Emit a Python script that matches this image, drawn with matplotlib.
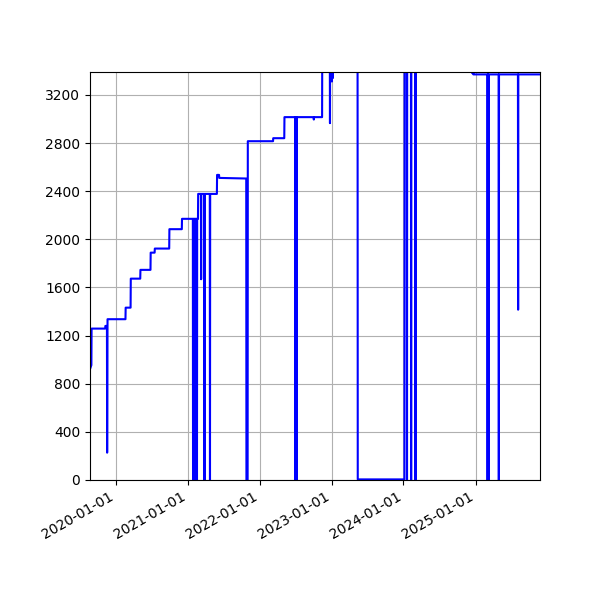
import matplotlib
matplotlib.use("Agg")
import matplotlib.pyplot as plt
import matplotlib.dates as mdates
import pandas as pd

dates = [
    "2019-08-26", "2019-08-31", "2019-09-01", "2019-11-09", "2019-11-10", "2019-11-18",
    "2019-11-19", "2019-11-21", "2020-02-20", "2020-02-21", "2020-03-17", "2020-03-18",
    "2020-05-05", "2020-05-06", "2020-06-26", "2020-06-27", "2020-07-17", "2020-07-18",
    "2020-09-29", "2020-09-30", "2020-12-02", "2020-12-03",
    "2021-01-27", "2021-01-28", "2021-01-29",
    "2021-02-06", "2021-02-07", "2021-02-08",
    "2021-02-16", "2021-02-17", "2021-02-18",
    "2021-02-22", "2021-02-23",
    "2021-03-09", "2021-03-10", "2021-03-11",
    "2021-03-26", "2021-03-27", "2021-03-28",
    "2021-04-23", "2021-04-24", "2021-04-25",
    "2021-05-29", "2021-05-30", "2021-06-09", "2021-06-10",
    "2021-10-25", "2021-10-26", "2021-11-01", "2021-11-02",
    "2022-03-10", "2022-03-11", "2022-05-06", "2022-05-07",
    "2022-06-30", "2022-07-01", "2022-07-02",
    "2022-07-06", "2022-07-07", "2022-07-08",
    "2022-10-02", "2022-10-03", "2022-10-04",
    "2022-11-14", "2022-11-15",
    "2022-12-23", "2022-12-24", "2022-12-25",
    "2023-01-02", "2023-01-03", "2023-01-04",
    "2023-01-07", "2023-01-08", "2023-01-09",
    "2023-05-13", "2023-05-14", "2024-01-06", "2024-01-07",
    "2024-01-18", "2024-01-19", "2024-01-20",
    "2024-02-08", "2024-02-09", "2024-02-10",
    "2024-03-01", "2024-03-02", "2024-03-03",
    "2024-12-14", "2024-12-15", "2024-12-20", "2024-12-21",
    "2025-03-02", "2025-03-03", "2025-03-04",
    "2025-03-07", "2025-03-08", "2025-03-09",
    "2025-04-28", "2025-04-29", "2025-04-30",
    "2025-08-04", "2025-08-05", "2025-08-06",
    "2025-11-26",
]
values = [
    930, 955, 1258, 1258, 1280, 1280,
    227, 1336, 1336, 1432, 1432, 1673,
    1673, 1746, 1746, 1889, 1889, 1923,
    1923, 2084, 2084, 2170,
    2170, 0, 2170,
    2170, 0, 2170,
    2170, 0, 2170,
    2170, 2377,
    2377, 1668, 2377,
    2377, 0, 2377,
    2377, 0, 2377,
    2377, 2535, 2535, 2510,
    2505, 0, 0, 2815,
    2815, 2840, 2840, 3015,
    3015, 0, 3015,
    3015, 0, 3015,
    3015, 2995, 3015,
    3015, 3700,
    3700, 2965, 3700,
    3700, 3311, 3700,
    3700, 3340, 3700,
    3700, 5, 5, 3700,
    3700, 0, 3700,
    3700, 0, 3700,
    3700, 0, 3700,
    3700, 3380, 3380, 3370,
    3370, 0, 3370,
    3370, 0, 3370,
    3370, 0, 3370,
    3370, 1415, 3370,
    3370,
]

x = pd.to_datetime(dates)

fig = plt.figure(figsize=(6, 6), dpi=100)
ax = fig.add_subplot(111)
fig.subplots_adjust(left=0.15, right=0.9, top=0.88, bottom=0.2)
ax.plot(x, values, color="blue", linewidth=1.5)
ax.set_xlim(pd.Timestamp("2019-08-24"), pd.Timestamp("2025-11-24"))
ax.set_ylim(0, 3390)
ax.set_yticks(range(0, 3201, 400))
ax.xaxis.set_major_locator(mdates.YearLocator())
ax.xaxis.set_major_formatter(mdates.DateFormatter("%Y-%m-%d"))
ax.grid(True)
for lbl in ax.get_xticklabels():
    lbl.set_rotation(30)
    lbl.set_ha("right")
fig.savefig("out.png", dpi=100)
